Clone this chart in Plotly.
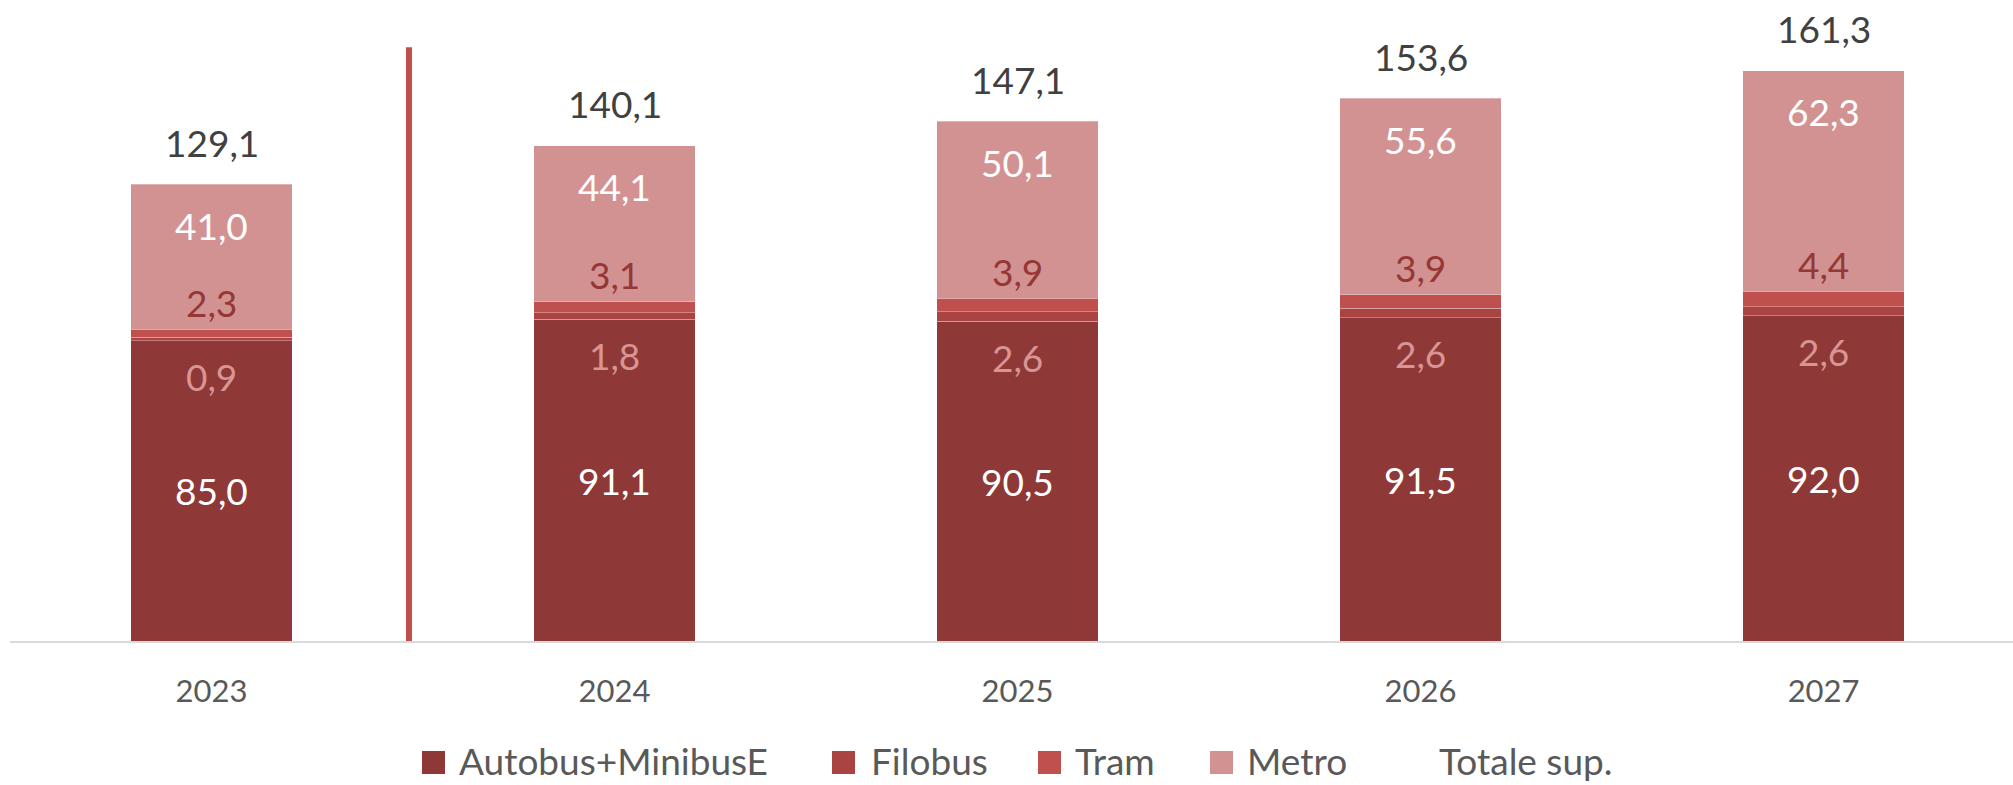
import plotly.graph_objects as go

years = ["2023", "2024", "2025", "2026", "2027"]
autobus = [85.0, 91.1, 90.5, 91.5, 92.0]
filobus = [0.9, 1.8, 2.6, 2.6, 2.6]
tram = [2.3, 3.1, 3.9, 3.9, 4.4]
metro = [41.0, 44.1, 50.1, 55.6, 62.3]
totale = [129.1, 140.1, 147.1, 153.6, 161.3]

series_names = ["Autobus+MinibusE", "Filobus", "Tram", "Metro"]
colors = ["#8E3937", "#A94442", "#C0504D", "#D39292"]

FONT = "Lato"
LBL = 37


def fmt(v):
    return f"{v:.1f}".replace(".", ",")


fig = go.Figure()
for name, vals, col in zip(series_names, [autobus, filobus, tram, metro], colors):
    fig.add_trace(go.Bar(
        x=years, y=vals, name=name, width=0.40,
        marker=dict(color=col, line=dict(color="rgba(255,255,255,0.3)", width=1)),
        showlegend=False, hoverinfo="x+y+name",
    ))

ann = []
for i, yr in enumerate(years):
    a, f, t, m, tot = autobus[i], filobus[i], tram[i], metro[i], totale[i]
    ann.append(dict(x=i, y=a / 2, text=fmt(a), showarrow=False,
                    font=dict(family=FONT, size=LBL, color="white"), yanchor="middle"))
    ann.append(dict(x=i, y=a, text=fmt(f), showarrow=False, yshift=-36,
                    font=dict(family=FONT, size=LBL, color="#D99594"), yanchor="middle"))
    ann.append(dict(x=i, y=a + f + t, text=fmt(t), showarrow=False, yshift=27,
                    font=dict(family=FONT, size=LBL, color="#953735"), yanchor="middle"))
    ann.append(dict(x=i, y=a + f + t + m, text=fmt(m), showarrow=False, yshift=-41,
                    font=dict(family=FONT, size=LBL, color="white"), yanchor="middle"))
    ann.append(dict(x=i, y=tot, text=fmt(tot), showarrow=False, yshift=42,
                    font=dict(family=FONT, size=LBL, color="#404040"), yanchor="middle"))

# Manual legend (paper coordinates); target positions given in pixels
W, H = 2013, 785
ml, mr, mt, mb = 10, 0, 20, 785 - 641
pw, ph = W - ml - mr, H - mt - mb


def px(xp):
    return (xp - ml) / pw


def py(yp):
    return (H - mb - yp) / ph


legend_items = [
    ("Autobus+MinibusE", colors[0], 422, 457),
    ("Filobus", colors[1], 832, 869),
    ("Tram", colors[2], 1038, 1073),
    ("Metro", colors[3], 1210, 1245),
    ("Totale sup.", None, None, 1437),
]
shapes = []
for label, col, sx, tx in legend_items:
    if col:
        shapes.append(dict(type="rect", xref="paper", yref="paper",
                           x0=px(sx), x1=px(sx + 23), y0=py(774), y1=py(751),
                           fillcolor=col, line=dict(width=0)))
    ann.append(dict(xref="paper", yref="paper", x=px(tx), y=py(760), text=label,
                    showarrow=False, xanchor="left", yanchor="middle",
                    font=dict(family=FONT, size=37, color="#595959")))

# Separator line between actual and forecast years
shapes.append(dict(type="line", xref="x", yref="y", x0=0.49, x1=0.49, y0=0, y1=168,
                   line=dict(color="#C0504D", width=6)))

fig.update_layout(
    width=W, height=H, barmode="stack",
    margin=dict(l=ml, r=mr, t=mt, b=mb),
    paper_bgcolor="white", plot_bgcolor="white",
    font=dict(family=FONT),
    annotations=ann, shapes=shapes, showlegend=False,
    xaxis=dict(type="category", range=[-0.5, 4.47], showgrid=False,
               showline=True, linecolor="#D9D9D9", linewidth=2,
               ticks="", ticklabelstandoff=22,
               tickfont=dict(family=FONT, size=31, color="#595959")),
    yaxis=dict(range=[0, 175.7], visible=False, showgrid=False, zeroline=False),
)

fig.write_html("out.html", config={"displayModeBar": False},
               post_script="document.body.style.margin='0px';")
